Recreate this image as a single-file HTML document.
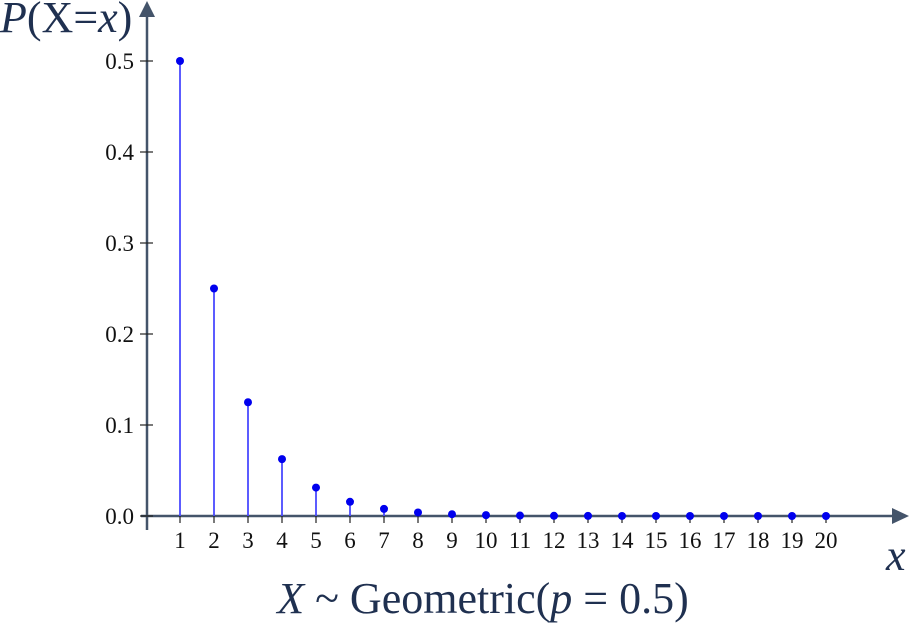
<!DOCTYPE html>
<html><head><meta charset="utf-8"><style>
html,body{margin:0;padding:0;background:#fff;}
svg{display:block;font-family:"Liberation Serif",serif;}
</style></head><body>
<svg width="909" height="623" viewBox="0 0 909 623" xmlns="http://www.w3.org/2000/svg">
<g id="axes"></g>
<g id="marks"></g>
<text x="0" y="32" font-size="44" fill="#1f3050"><tspan font-style="italic">P</tspan>(X=<tspan font-style="italic">x</tspan>)</text>
<text x="886" y="570" font-size="44" font-style="italic" fill="#1f3050">x</text>
<text x="483" y="613" font-size="44" text-anchor="middle" fill="#1f3050"><tspan font-style="italic">X</tspan> ~ Geometric(<tspan font-style="italic">p</tspan> = 0.5)</text>
</svg>
<script>
const categories=[1,2,3,4,5,6,7,8,9,10,11,12,13,14,15,16,17,18,19,20];
const probs=[0.5,0.25,0.125,0.0625,0.03125,0.015625,0.0078125,0.00390625,0.001953,0.000977,0.000488,0.000244,0.000122,0.000061,0.000031,0.000015,0.0000076,0.0000038,0.0000019,0.00000095];
const yTicks=[0,0.1,0.2,0.3,0.4,0.5];
const yTickLabels=["0.0","0.1","0.2","0.3","0.4","0.5"];
const NS="http://www.w3.org/2000/svg";
const xS=v=>180+(v-1)*34;
const yS=v=>516-v*910;
const axisC="#44546a";
function mk(tag,attrs,parent){const e=document.createElementNS(NS,tag);for(const k in attrs)e.setAttribute(k,attrs[k]);parent.appendChild(e);return e;}
const ax=document.getElementById('axes'),mg=document.getElementById('marks');
let l=mk('line',{x1:147,y1:530,x2:147,y2:16,stroke:axisC,'stroke-width':2.5},ax);


let p=mk('polygon',{points:"147,1 139,17 155,17",fill:axisC},ax);


l=mk('line',{x1:141,y1:516,x2:894,y2:516,stroke:axisC,'stroke-width':2.5},ax);


p=mk('polygon',{points:"909,516 892,508 892,524",fill:axisC},ax);


yTicks.forEach((t,i)=>{
 const tk=mk('line',{x1:140,y1:yS(t),x2:153,y2:yS(t),stroke:"#222",'stroke-width':1.2},ax);
 
 
 const tx=mk('text',{x:134,y:yS(t)+8,'font-size':23,'text-anchor':'end',fill:'#111'},ax);
 tx.textContent=yTickLabels[i];
 
 
});
categories.forEach((c,i)=>{
 const x=xS(c);
 const tk=mk('line',{x1:x,y1:516,x2:x,y2:523,stroke:"#222",'stroke-width':1.2},ax);
 
 
 const tx=mk('text',{x:x,y:548,'font-size':23,'text-anchor':'middle',fill:'#111'},ax);
 tx.textContent=String(c);
 
 
 const s=mk('line',{x1:x,y1:516,x2:x,y2:yS(probs[i]),stroke:"#4a4aff",'stroke-width':1.8},mg);
 
 
 const d=mk('circle',{cx:x,cy:yS(probs[i]),r:4,fill:"#0000ee"},mg);
 
 
});
</script>
</body></html>
